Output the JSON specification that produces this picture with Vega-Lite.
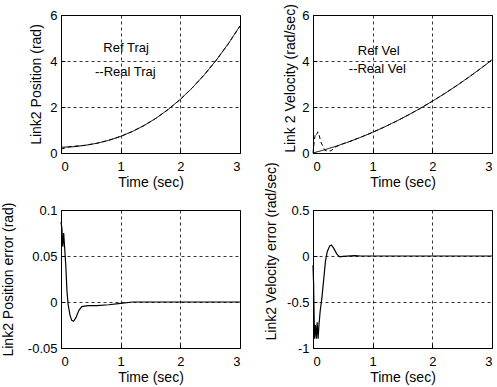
{
  "$schema": "https://vega.github.io/schema/vega-lite/v6.json",
  "background": "white",
  "padding": {"left": 0, "top": 1, "right": 1, "bottom": 1},
  "autosize": {"type": "pad"},
  "config": {
    "view": {"stroke": "black", "strokeWidth": 1},
    "font": "Liberation Sans",
    "axis": {"grid": true, "gridColor": "black", "gridOpacity": 1, "gridDash": [3, 3], "gridWidth": 0.8, "domain": false, "ticks": true, "tickSize": -4, "tickColor": "black", "labelFontSize": 13, "titleFontSize": 14, "titleFontWeight": "normal", "labelColor": "black", "titleColor": "black", "titlePadding": 2, "labelFont": "Liberation Sans", "titleFont": "Liberation Sans"},
    "axisX": {"labelPadding": 11},
    "axisY": {"labelPadding": 8},
    "text": {"font": "Liberation Sans", "fontSize": 13, "color": "black"},
    "line": {"color": "black", "strokeWidth": 1}
  },
  "datasets": {
    "pos": [
      {"t": 0, "y": 0.25, "s": "ref"}, {"t": 0.2, "y": 0.27, "s": "ref"}, {"t": 0.4, "y": 0.331, "s": "ref"}, {"t": 0.6, "y": 0.422, "s": "ref"}, {"t": 0.8, "y": 0.551, "s": "ref"}, {"t": 1.0, "y": 0.723, "s": "ref"}, {"t": 1.2, "y": 0.94, "s": "ref"}, {"t": 1.4, "y": 1.206, "s": "ref"}, {"t": 1.6, "y": 1.525, "s": "ref"}, {"t": 1.8, "y": 1.9, "s": "ref"}, {"t": 2.0, "y": 2.334, "s": "ref"}, {"t": 2.2, "y": 2.831, "s": "ref"}, {"t": 2.4, "y": 3.395, "s": "ref"}, {"t": 2.6, "y": 4.029, "s": "ref"}, {"t": 2.8, "y": 4.737, "s": "ref"}, {"t": 3.0, "y": 5.521, "s": "ref"},
      {"t": 0, "y": 0.17, "s": "real"}, {"t": 0.05, "y": 0.2, "s": "real"}, {"t": 0.1, "y": 0.25, "s": "real"}, {"t": 0.2, "y": 0.295, "s": "real"}, {"t": 0.3, "y": 0.31, "s": "real"}, {"t": 0.4, "y": 0.335, "s": "real"}, {"t": 0.6, "y": 0.422, "s": "real"}, {"t": 0.8, "y": 0.551, "s": "real"}, {"t": 1.0, "y": 0.723, "s": "real"}, {"t": 1.2, "y": 0.94, "s": "real"}, {"t": 1.4, "y": 1.206, "s": "real"}, {"t": 1.6, "y": 1.525, "s": "real"}, {"t": 1.8, "y": 1.9, "s": "real"}, {"t": 2.0, "y": 2.334, "s": "real"}, {"t": 2.2, "y": 2.831, "s": "real"}, {"t": 2.4, "y": 3.395, "s": "real"}, {"t": 2.6, "y": 4.029, "s": "real"}, {"t": 2.8, "y": 4.737, "s": "real"}, {"t": 3.0, "y": 5.521, "s": "real"}
    ],
    "vel": [
      {"t": 0, "y": 0, "s": "ref"}, {"t": 0.2, "y": 0.144, "s": "ref"}, {"t": 0.4, "y": 0.306, "s": "ref"}, {"t": 0.6, "y": 0.486, "s": "ref"}, {"t": 0.8, "y": 0.684, "s": "ref"}, {"t": 1.0, "y": 0.9, "s": "ref"}, {"t": 1.2, "y": 1.134, "s": "ref"}, {"t": 1.4, "y": 1.386, "s": "ref"}, {"t": 1.6, "y": 1.656, "s": "ref"}, {"t": 1.8, "y": 1.944, "s": "ref"}, {"t": 2.0, "y": 2.25, "s": "ref"}, {"t": 2.2, "y": 2.574, "s": "ref"}, {"t": 2.4, "y": 2.916, "s": "ref"}, {"t": 2.6, "y": 3.276, "s": "ref"}, {"t": 2.8, "y": 3.654, "s": "ref"}, {"t": 3.0, "y": 4.05, "s": "ref"},
      {"t": 0, "y": 0, "s": "real"}, {"t": 0.02, "y": 0.5, "s": "real"}, {"t": 0.04, "y": 0.85, "s": "real"}, {"t": 0.06, "y": 0.8, "s": "real"}, {"t": 0.08, "y": 0.92, "s": "real"}, {"t": 0.1, "y": 0.8, "s": "real"}, {"t": 0.13, "y": 0.5, "s": "real"}, {"t": 0.17, "y": 0.25, "s": "real"}, {"t": 0.2, "y": 0.12, "s": "real"}, {"t": 0.25, "y": 0.08, "s": "real"}, {"t": 0.3, "y": 0.1, "s": "real"}, {"t": 0.4, "y": 0.29, "s": "real"}, {"t": 0.5, "y": 0.4, "s": "real"}, {"t": 0.6, "y": 0.486, "s": "real"}, {"t": 0.8, "y": 0.684, "s": "real"}, {"t": 1.0, "y": 0.9, "s": "real"}, {"t": 1.2, "y": 1.134, "s": "real"}, {"t": 1.4, "y": 1.386, "s": "real"}, {"t": 1.6, "y": 1.656, "s": "real"}, {"t": 1.8, "y": 1.944, "s": "real"}, {"t": 2.0, "y": 2.25, "s": "real"}, {"t": 2.2, "y": 2.574, "s": "real"}, {"t": 2.4, "y": 2.916, "s": "real"}, {"t": 2.6, "y": 3.276, "s": "real"}, {"t": 2.8, "y": 3.654, "s": "real"}, {"t": 3.0, "y": 4.05, "s": "real"}
    ],
    "perr": [
      {"t": 0, "y": 0.087}, {"t": 0.015, "y": 0.08}, {"t": 0.03, "y": 0.06}, {"t": 0.045, "y": 0.075}, {"t": 0.06, "y": 0.06}, {"t": 0.08, "y": 0.04}, {"t": 0.1, "y": 0.012}, {"t": 0.12, "y": -0.003}, {"t": 0.15, "y": -0.014}, {"t": 0.18, "y": -0.02}, {"t": 0.21, "y": -0.021}, {"t": 0.25, "y": -0.017}, {"t": 0.3, "y": -0.009}, {"t": 0.35, "y": -0.005}, {"t": 0.45, "y": -0.004}, {"t": 0.6, "y": -0.004}, {"t": 0.8, "y": -0.003}, {"t": 1.0, "y": -0.0015}, {"t": 1.2, "y": 0}, {"t": 3.0, "y": 0}
    ],
    "verr": [
      {"t": 0, "y": -0.1}, {"t": 0.01, "y": -0.3}, {"t": 0.025, "y": -0.9}, {"t": 0.04, "y": -0.75}, {"t": 0.055, "y": -0.9}, {"t": 0.07, "y": -0.72}, {"t": 0.085, "y": -0.9}, {"t": 0.1, "y": -0.75}, {"t": 0.12, "y": -0.6}, {"t": 0.15, "y": -0.45}, {"t": 0.18, "y": -0.25}, {"t": 0.21, "y": -0.05}, {"t": 0.24, "y": 0.05}, {"t": 0.28, "y": 0.11}, {"t": 0.31, "y": 0.12}, {"t": 0.35, "y": 0.08}, {"t": 0.4, "y": 0.02}, {"t": 0.45, "y": -0.01}, {"t": 0.5, "y": -0.005}, {"t": 0.7, "y": 0.005}, {"t": 0.8, "y": 0}, {"t": 3.0, "y": 0}
    ],
    "lab1": [
      {"t": 0.71, "y": 4.57, "label": "Ref Traj"},
      {"t": 0.57, "y": 3.54, "label": "--Real Traj"}
    ],
    "lab2": [
      {"t": 0.75, "y": 4.42, "label": "Ref Vel"},
      {"t": 0.6, "y": 3.65, "label": "--Real Vel"}
    ]
  },
  "columns": 2,
  "spacing": {"row": 57, "column": 73},
  "bounds": "flush",
  "concat": [
    {
      "width": 179, "height": 138,
      "view": {"stroke": "black", "strokeWidth": 1},
      "layer": [
        {
          "data": {"name": "pos"},
          "mark": {"type": "line", "color": "black", "strokeWidth": 1},
          "encoding": {
            "x": {"field": "t", "type": "quantitative", "scale": {"domain": [0, 3]}, "axis": {"title": "Time (sec)", "values": [0, 1, 2, 3], "labelExpr": "'' + datum.value"}},
            "y": {"field": "y", "type": "quantitative", "scale": {"domain": [0, 6]}, "axis": {"title": "Link2  Position (rad)", "values": [0, 2, 4, 6], "labelExpr": "'' + datum.value", "titleX": -18}},
            "detail": {"field": "s"},
            "strokeDash": {"field": "s", "type": "nominal", "scale": {"domain": ["ref", "real"], "range": [[1, 0], [4, 3]]}, "legend": null}
          }
        },
        {
          "data": {"name": "lab1"},
          "mark": {"type": "text", "align": "left", "baseline": "middle"},
          "encoding": {
            "x": {"field": "t", "type": "quantitative"},
            "y": {"field": "y", "type": "quantitative"},
            "text": {"field": "label"}
          }
        }
      ]
    },
    {
      "width": 179, "height": 138,
      "view": {"stroke": "black", "strokeWidth": 1},
      "layer": [
        {
          "data": {"name": "vel"},
          "mark": {"type": "line", "color": "black", "strokeWidth": 1},
          "encoding": {
            "x": {"field": "t", "type": "quantitative", "scale": {"domain": [0, 3]}, "axis": {"title": "Time (sec)", "values": [0, 1, 2, 3], "labelExpr": "'' + datum.value"}},
            "y": {"field": "y", "type": "quantitative", "scale": {"domain": [0, 6]}, "axis": {"title": "Link 2  Velocity (rad/sec)", "values": [0, 2, 4, 6], "labelExpr": "'' + datum.value", "titleX": -16, "titleY": 63}},
            "detail": {"field": "s"},
            "strokeDash": {"field": "s", "type": "nominal", "scale": {"domain": ["ref", "real"], "range": [[1, 0], [4, 3]]}, "legend": null}
          }
        },
        {
          "data": {"name": "lab2"},
          "mark": {"type": "text", "align": "left", "baseline": "middle"},
          "encoding": {
            "x": {"field": "t", "type": "quantitative"},
            "y": {"field": "y", "type": "quantitative"},
            "text": {"field": "label"}
          }
        }
      ]
    },
    {
      "width": 179, "height": 138,
      "view": {"stroke": "black", "strokeWidth": 1},
      "data": {"name": "perr"},
      "mark": {"type": "line", "color": "black", "strokeWidth": 1.2},
      "encoding": {
        "x": {"field": "t", "type": "quantitative", "scale": {"domain": [0, 3]}, "axis": {"title": "Time (sec)", "values": [0, 1, 2, 3], "labelExpr": "'' + datum.value"}},
        "y": {"field": "y", "type": "quantitative", "scale": {"domain": [-0.05, 0.1]}, "axis": {"title": "Link2 Position error (rad)", "values": [-0.05, 0, 0.05, 0.1], "labelExpr": "'' + datum.value", "titleX": -46}}
      }
    },
    {
      "width": 179, "height": 138,
      "view": {"stroke": "black", "strokeWidth": 1},
      "data": {"name": "verr"},
      "mark": {"type": "line", "color": "black", "strokeWidth": 1.2},
      "encoding": {
        "x": {"field": "t", "type": "quantitative", "scale": {"domain": [0, 3]}, "axis": {"title": "Time (sec)", "values": [0, 1, 2, 3], "labelExpr": "'' + datum.value"}},
        "y": {"field": "y", "type": "quantitative", "scale": {"domain": [-1, 0.5]}, "axis": {"title": "Link2 Velocity error (rad/sec)", "values": [-1, -0.5, 0, 0.5], "labelExpr": "'' + datum.value", "titleX": -35, "titleY": 130, "titleAlign": "left"}}
      }
    }
  ]
}
